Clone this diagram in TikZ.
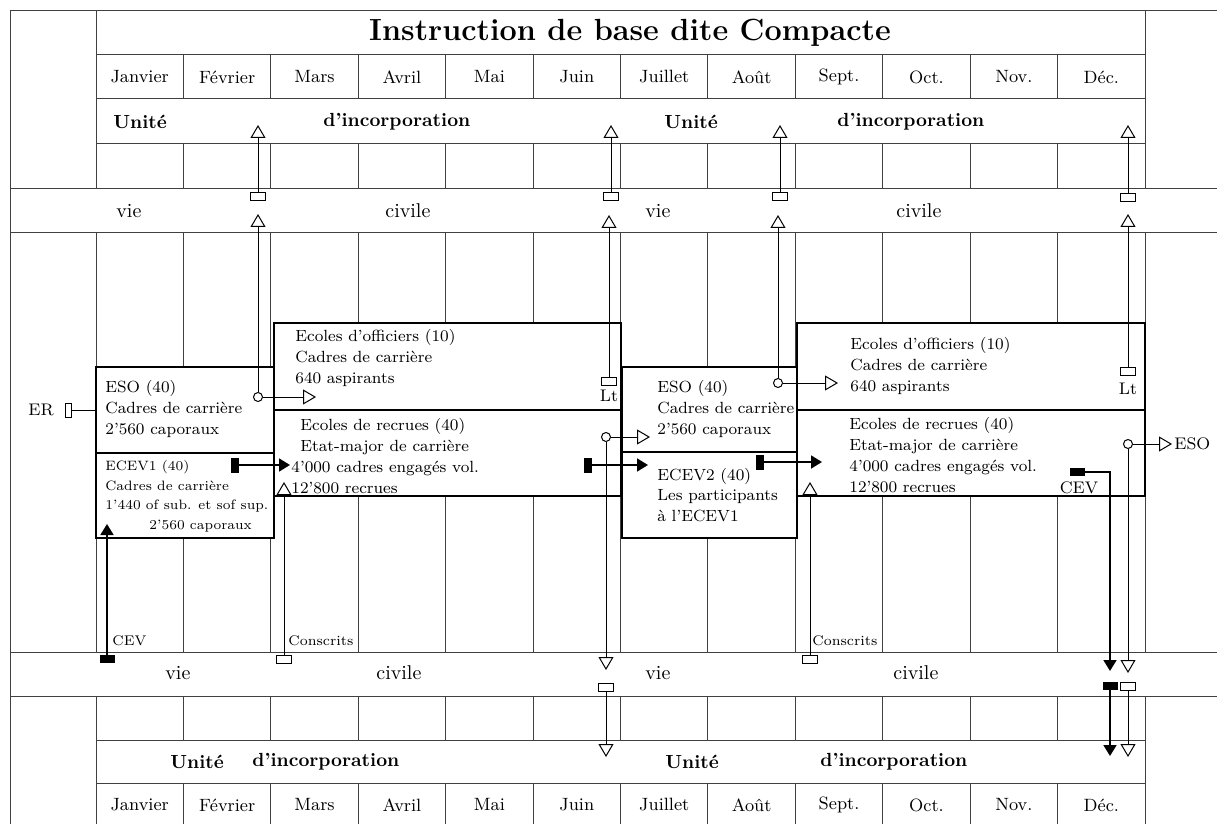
\documentclass[tikz,border=0pt]{standalone}
\usepackage{fontspec}
\usepackage{tikz}
\usetikzlibrary{positioning, arrows.meta}

\begin{document}
\begin{tikzpicture}[x=0.5pt,y=-0.5pt,
gl/.style={line width=0.5pt,black!75},
bx/.style={draw,line width=1.4pt,fill=white,inner sep=0pt},
tx/.style={anchor=west,inner sep=0pt,align=left,font=\fontsize{8.1}{10.4}\selectfont},
mo/.style={font=\fontsize{8.9}{10}\selectfont},
ui/.style={anchor=west,inner sep=0pt,font=\bfseries\fontsize{9.5}{11}\selectfont},
vc/.style={anchor=west,inner sep=0pt,font=\fontsize{10}{12}\selectfont},
sm/.style={anchor=west,inner sep=0pt,font=\fontsize{7}{8}\selectfont},
lb/.style={inner sep=0pt,font=\fontsize{8.4}{10}\selectfont},
op/.style={line width=0.5pt,-{Triangle[open,length=6.5pt,width=7.5pt]}},
bk/.style={line width=0.9pt,-{Triangle[length=5.5pt,width=6.5pt]}},
pr/.style={draw,line width=0.5pt,fill=white,minimum width=7.5pt,minimum height=4pt,inner sep=0pt},
pn/.style={fill=black,minimum width=7.5pt,minimum height=4pt,inner sep=0pt},
pv/.style={fill=black,minimum width=4pt,minimum height=7.5pt,inner sep=0pt},
rd/.style={draw,circle,line width=0.5pt,fill=white,minimum size=4.5pt,inner sep=0pt}]
\useasboundingbox (0,0) rectangle (1217,824);

% grille
\draw[gl] (10,824) -- (10,11) -- (1217,11);
\draw[gl] (96,11) -- (96,189);
\draw[gl] (1145,11) -- (1145,189);
\draw[gl] (96,740) -- (96,824);
\draw[gl] (1145,740) -- (1145,824);
\foreach \y in {55,99,144,740,783}
  \draw[gl] (96,\y) -- (1145,\y);
\foreach \y in {189,233,652,696}
  \draw[gl] (10,\y) -- (1217,\y);
\foreach \i in {0,...,12} {
  \draw[gl] (96+87.42*\i,55) -- (96+87.42*\i,99);
  \draw[gl] (96+87.42*\i,144) -- (96+87.42*\i,189);
  \draw[gl] (96+87.42*\i,233) -- (96+87.42*\i,652);
  \draw[gl] (96+87.42*\i,696) -- (96+87.42*\i,740);
  \draw[gl] (96+87.42*\i,783) -- (96+87.42*\i,824);
}
\foreach \m [count=\i] in {Janvier,Février,Mars,Avril,Mai,Juin,Juillet,Août,Sept.,Oct.,Nov.,Déc.} {
  \node[mo] (mh\i) at (52.29+87.42*\i,77) {\m};
  \node[mo] (mb\i) at (52.29+87.42*\i,805) {\m};
}

\node[font=\bfseries\fontsize{15.3}{18}\selectfont] (titre) at (630,33) {Instruction de base dite Compacte};

\node[ui] (uh1) at (113,122) {Unité};
\node[ui] (uh2) at (323,122) {d'incorporation};
\node[ui] (uh3) at (664,122) {Unité};
\node[ui] (uh4) at (837,122) {d'incorporation};
\node[ui] (ub1) at (170,762) {Unité};
\node[ui] (ub2) at (252,762) {d'incorporation};
\node[ui] (ub3) at (665,762) {Unité};
\node[ui] (ub4) at (820,762) {d'incorporation};

\node[vc] (vh1) at (116,211) {vie};
\node[vc] (vh2) at (385,211) {civile};
\node[vc] (vh3) at (645,211) {vie};
\node[vc] (vh4) at (896,211) {civile};
\node[vc] (vb1) at (165,673) {vie};
\node[vc] (vb2) at (376,673) {civile};
\node[vc] (vb3) at (645,673) {vie};
\node[vc] (vb4) at (893,673) {civile};

% ecoles
\node[bx,minimum width=89pt,minimum height=43pt] (esoA) at (185,410) {};
\node[bx,minimum width=89pt,minimum height=42.5pt] (ecevA) at (185,495.5) {};
\node[bx,minimum width=173.5pt,minimum height=43.5pt] (offA) at (447.5,366.5) {};
\node[bx,minimum width=173.5pt,minimum height=43pt] (recA) at (447.5,453) {};
\node[bx,minimum width=87.5pt,minimum height=42.5pt] (esoB) at (709.5,409.5) {};
\node[bx,minimum width=87.5pt,minimum height=43pt] (ecevB) at (709.5,495) {};
\node[bx,minimum width=174pt,minimum height=43.5pt] (offB) at (971,366.5) {};
\node[bx,minimum width=174pt,minimum height=43pt] (recB) at (971,453) {};

\node[tx] (tEsoA) at (105,409) {ESO (40)\\Cadres de carrière\\2'560 caporaux};
\node[tx,font=\fontsize{6.8}{9.75}\selectfont] (tEcevA) at (105,496)
  {ECEV1 (40)\\Cadres de carrière\\1'440 of sub. et sof sup.\\\hspace*{22pt}2'560 caporaux};
\node[tx] (tOffA) at (295,358) {Ecoles d'officiers (10)\\Cadres de carrière\\640 aspirants};
\node[tx] (tRecA) at (291,456) {\hspace*{4.5pt}Ecoles de recrues (40)\\\hspace*{4.5pt}Etat-major de carrière\\4'000 cadres engagés vol.\\12'800 recrues};
\node[tx] (tEsoB) at (657,409) {ESO (40)\\Cadres de carrière\\2'560 caporaux};
\node[tx] (tEcevB) at (657,495) {ECEV2 (40)\\Les participants\\à l'ECEV1};
\node[tx] (tOffB) at (850,366) {Ecoles d'officiers (10)\\Cadres de carrière\\640 aspirants};
\node[tx] (tRecB) at (849,455) {Ecoles de recrues (40)\\Etat-major de carrière\\4'000 cadres engagés vol.\\12'800 recrues};

% ER
\node[lb] (er) at (41,410) {ER};
\node[draw,line width=0.5pt,minimum width=3pt,minimum height=7pt,inner sep=0pt] (pEr) at (68,410) {};
\draw[line width=0.5pt] (pEr) -- (pEr -| esoA.west);

% vers l'unite (haut)
\node[rd] (oA) at (258,397) {};
\coordinate (tA1) at (316,397);
\coordinate (tA2) at (258,214);
\node[pr] (pA) at (258,197) {};
\coordinate (tA3) at (258,125);
\draw[op] (oA) -- (tA1);
\draw[op] (oA) -- (tA2);
\draw[op] (pA) -- (tA3);

\node[pr] (pB) at (609,381) {};
\node[lb] (ltB) at (609,396) {Lt};
\coordinate (tB2) at (609,215);
\node[pr] (pB2) at (611,197) {};
\coordinate (tB3) at (611,125);
\draw[op] (pB) -- (tB2);
\draw[op] (pB2) -- (tB3);

\node[rd] (oC) at (778,383) {};
\coordinate (tC1) at (838,383);
\coordinate (tC2) at (778,215);
\node[pr] (pC2) at (780,197) {};
\coordinate (tC3) at (780,125);
\draw[op] (oC) -- (tC1);
\draw[op] (oC) -- (tC2);
\draw[op] (pC2) -- (tC3);

\node[pr] (pD) at (1128,371) {};
\node[lb] (ltD) at (1128,389) {Lt};
\coordinate (tD2) at (1128,214);
\node[pr] (pD2) at (1128,198) {};
\coordinate (tD3) at (1128,125);
\draw[op] (pD) -- (tD2);
\draw[op] (pD2) -- (tD3);

% depuis la vie civile (bas)
\node[pn] (pE) at (107,659) {};
\node[sm] (cevE) at (112,641) {CEV};
\coordinate (tE) at (107,524);
\draw[bk] (pE) -- (tE);

\node[pr] (pF) at (284,659) {};
\node[sm] (conF) at (288,641) {Conscrits};
\coordinate (tF) at (284,482);
\draw[op] (pF) -- (tF);

\node[pr] (pH) at (810,659) {};
\node[sm] (conH) at (812,641) {Conscrits};
\coordinate (tH) at (810,482);
\draw[op] (pH) -- (tH);

\node[rd] (oG) at (606,437) {};
\coordinate (tG1) at (650,437);
\coordinate (tG2) at (606,670);
\node[pr] (pG2) at (606,687) {};
\coordinate (tG3) at (606,757);
\draw[op] (oG) -- (tG1);
\draw[op] (oG) -- (tG2);
\draw[op] (pG2) -- (tG3);

\node[rd] (oI) at (1128,444) {};
\coordinate (tI1) at (1172,444);
\node[lb,anchor=west] (esoI) at (1174,444) {ESO};
\coordinate (tI2) at (1128,673);
\node[pr] (pI2) at (1128,686) {};
\coordinate (tI3) at (1128,757);
\draw[op] (oI) -- (tI1);
\draw[op] (oI) -- (tI2);
\draw[op] (pI2) -- (tI3);

\node[pn] (pJ) at (1077,472) {};
\node[lb] (cevJ) at (1079,488) {CEV};
\coordinate (cJ) at (1110,472);
\coordinate (tJ2) at (1110,671);
\node[pn] (pJ2) at (1110,686) {};
\coordinate (tJ3) at (1110,756);
\draw[bk] (pJ) -- (cJ) -- (tJ2);
\draw[bk] (pJ2) -- (tJ3);

% cadres engages
\node[pv] (k1) at (235,465) {};
\coordinate (tK1) at (290,465);
\draw[bk] (k1) -- (tK1);
\node[pv] (k2) at (588,465) {};
\coordinate (tK2) at (648,465);
\draw[bk] (k2) -- (tK2);
\node[pv] (k3) at (760,462) {};
\coordinate (tK3) at (822,462);
\draw[bk] (k3) -- (tK3);
\end{tikzpicture}
\end{document}
